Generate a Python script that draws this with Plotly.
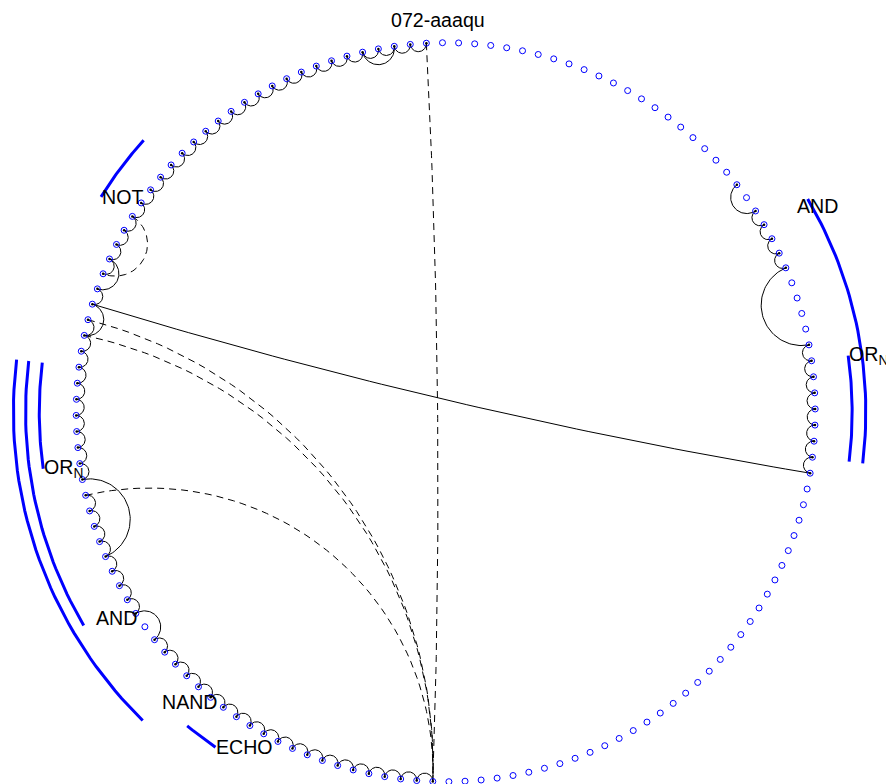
import numpy as np
import plotly.graph_objects as go

# ---- circle layout -------------------------------------------------------
N_NODES = 144
STEP_DEG = 360.0 / N_NODES
ANGLE_OFFSET_DEG = -3.0          # node 0 sits just left of north

# consecutive-neighbour links, given as inclusive runs of node indices
BACKBONE_RUNS = [(74, 94), (96, 104), (105, 115), (116, 117), (118, 144),
                 (24, 28), (33, 41)]

# longer solid links
SOLID_SRC = [94, 100, 114, 117, 140, 22, 28, 116]
SOLID_DST = [96, 105, 116, 119, 142, 24, 33, 41]

# dashed links
DASH_SRC = [0, 114, 115, 104, 122]
DASH_DST = [74, 74, 74, 74, 118]

# feature tracks drawn outside the ring
FEATURE_NAMES = ["NOT", "AND", "OR<sub>N</sub>", "OR<sub>N</sub>", "AND", "NAND", "ECHO"]
FEATURE_START = [122, 25, 34, 106, 97, 91, 87]
FEATURE_END = [126, 40, 40, 112, 112, 112, 89]
FEATURE_TRACK = [1, 2, 1, 1, 2, 3, 1]

TITLE = "072-aaaqu"

# ---- geometry helpers ----------------------------------------------------
TRACK_RADIUS = {1: 1.100, 2: 1.137, 3: 1.170}
LABEL_RADIUS = 1.100
FONT = "Liberation Sans, Arial, sans-serif"


def node_angle(k):
    return np.radians((k % N_NODES) * STEP_DEG + ANGLE_OFFSET_DEG)


def node_xy(k):
    a = node_angle(k)
    return np.sin(a), np.cos(a)


def geodesic(i, j, n=60):
    """Arc through nodes i and j that meets the unit circle at right angles."""
    p = np.array(node_xy(i))
    q = np.array(node_xy(j))
    cosd = float(p @ q)
    if cosd < -0.9995:
        t = np.linspace(0, 1, n)
        return p[0] + (q[0] - p[0]) * t, p[1] + (q[1] - p[1]) * t
    c = (p + q) / (1.0 + cosd)
    r = np.linalg.norm(p - c)
    pa = np.arctan2(p[1] - c[1], p[0] - c[0])
    qa = np.arctan2(q[1] - c[1], q[0] - c[0])
    d = (qa - pa + np.pi) % (2 * np.pi) - np.pi
    t = pa + d * np.linspace(0, 1, n)
    return c[0] + r * np.cos(t), c[1] + r * np.sin(t)


def collect(pairs):
    xs, ys = [], []
    for i, j in pairs:
        x, y = geodesic(i, j)
        xs.extend(x.tolist() + [None])
        ys.extend(y.tolist() + [None])
    return xs, ys


solid_pairs = []
for a, b in BACKBONE_RUNS:
    for k in range(a, b):
        solid_pairs.append((k, k + 1))
solid_pairs += list(zip(SOLID_SRC, SOLID_DST))
dash_pairs = list(zip(DASH_SRC, DASH_DST))

connected = sorted({k % N_NODES for pr in solid_pairs + dash_pairs for k in pr})

fig = go.Figure()

# feature arcs
fx, fy = [], []
for s, e, trk in zip(FEATURE_START, FEATURE_END, FEATURE_TRACK):
    ang = np.radians(np.linspace(s * STEP_DEG + ANGLE_OFFSET_DEG,
                                 e * STEP_DEG + ANGLE_OFFSET_DEG, 40))
    rr = TRACK_RADIUS[trk]
    fx.extend((rr * np.sin(ang)).tolist() + [None])
    fy.extend((rr * np.cos(ang)).tolist() + [None])
fig.add_trace(go.Scatter(x=fx, y=fy, mode="lines",
                         line=dict(color="#0000ff", width=3), hoverinfo="skip"))

# links
sx, sy = collect(solid_pairs)
fig.add_trace(go.Scatter(x=sx, y=sy, mode="lines",
                         line=dict(color="black", width=1), hoverinfo="skip"))
dx, dy = collect(dash_pairs)
fig.add_trace(go.Scatter(x=dx, y=dy, mode="lines",
                         line=dict(color="black", width=1, dash="7px,5px"),
                         hoverinfo="skip"))

# nodes
nx = [node_xy(k)[0] for k in range(N_NODES)]
ny = [node_xy(k)[1] for k in range(N_NODES)]
fig.add_trace(go.Scatter(x=nx, y=ny, mode="markers",
                         marker=dict(symbol="circle-open", size=6,
                                     color="#0000ff", line=dict(width=1))))
fig.add_trace(go.Scatter(x=[nx[k] for k in connected], y=[ny[k] for k in connected],
                         mode="markers",
                         marker=dict(symbol="circle", size=2.5, color="black")))

# feature labels at the start of each arc
for name, s in zip(FEATURE_NAMES, FEATURE_START):
    a = np.radians(s * STEP_DEG + ANGLE_OFFSET_DEG)
    fig.add_annotation(x=LABEL_RADIUS * np.sin(a), y=LABEL_RADIUS * np.cos(a),
                       text=name, showarrow=False, xanchor="left", yanchor="middle",
                       borderpad=0, font=dict(family=FONT, size=19.6, color="black"))

fig.add_annotation(xref="paper", yref="paper", x=438 / 886, y=1 - 19.5 / 784,
                   text=TITLE, showarrow=False, xanchor="center", yanchor="middle",
                   font=dict(family=FONT, size=19.6, color="black"))

W, H = 886, 784
CX, CY, RPX = 445.7, 412.2, 369.5
x0 = -CX / RPX
y1 = CY / RPX
fig.update_layout(
    width=W, height=H, margin=dict(l=0, r=0, t=0, b=0),
    paper_bgcolor="white", plot_bgcolor="white", showlegend=False,
    xaxis=dict(range=[x0, x0 + W / RPX], visible=False, fixedrange=True),
    yaxis=dict(range=[y1 - H / RPX, y1], visible=False, fixedrange=True),
)

fig.write_html("out.html")
